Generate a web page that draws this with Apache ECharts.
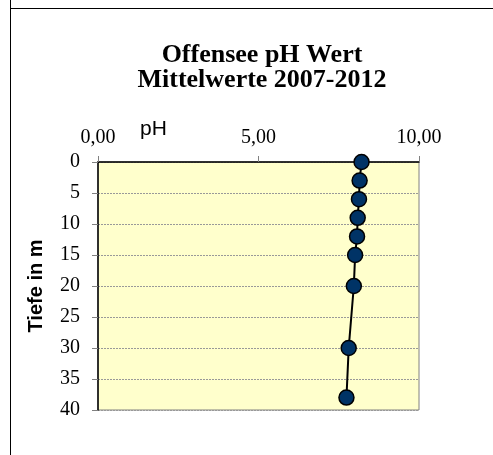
<!DOCTYPE html>
<html><head><meta charset="utf-8">
<script src="https://cdn.jsdelivr.net/npm/echarts@6/dist/echarts.min.js"></script>
<style>html,body{margin:0;padding:0;background:#fff}#c{width:493px;height:455px}</style>
</head><body><div id="c"></div>
<script>
const depths = [0, 3, 6, 9, 12, 15, 20, 30, 38];
const phValues = [8.21, 8.15, 8.13, 8.09, 8.07, 8.01, 7.97, 7.81, 7.74];
const xTicks = [0, 5, 10];
const yTicks = [0, 5, 10, 15, 20, 25, 30, 35, 40];
const titleLines = ['Offensee pH Wert', 'Mittelwerte 2007-2012'];

const chart = echarts.init(document.getElementById('c'), null, {renderer: 'canvas'});
const serif = '"Liberation Serif", "DejaVu Serif", serif';
const sans = '"Liberation Sans", Arial, sans-serif';
chart.setOption({
  animation: false,
  backgroundColor: '#fff',
  title: {
    text: titleLines.join('\n'), left: 257, top: 38, textAlign: 'center',
    textStyle: {fontFamily: serif, fontWeight: 'bold', fontSize: 26, lineHeight: 25, color: '#000'}
  },
  graphic: [
    {type: 'line', shape: {x1: 10.5, y1: 0, x2: 10.5, y2: 455}, style: {stroke: '#000', lineWidth: 1}, z: 10},
    {type: 'line', shape: {x1: 10, y1: 8.5, x2: 493, y2: 8.5}, style: {stroke: '#000', lineWidth: 1}, z: 10},
    {type: 'text', x: 140, y: 129, style: {text: 'pH', font: '21px ' + sans, fill: '#000', verticalAlign: 'middle'}, z: 10}
  ],
  grid: {left: 98, right: 74, top: 162, bottom: 45, show: true, backgroundColor: '#FFFFCC', borderColor: '#808080', borderWidth: 1},
  xAxis: {
    type: 'value', position: 'top', min: 0, max: 10, interval: 5,
    axisLine: {show: true, lineStyle: {color: '#000', width: 1.5}},
    axisTick: {show: true, length: 6, lineStyle: {color: '#808080'}},
    splitLine: {show: false},
    axisLabel: {fontFamily: serif, fontSize: 20, color: '#000', margin: 14,
      formatter: v => xTicks.includes(v) ? v.toFixed(2).replace('.', ',') : ''}
  },
  yAxis: {
    type: 'value', inverse: true, min: 0, max: 40, interval: 5,
    name: 'Tiefe in m', nameLocation: 'middle', nameGap: 52, nameRotate: 90,
    nameTextStyle: {fontFamily: sans, fontWeight: 'bold', fontSize: 20, color: '#000'},
    axisLine: {show: true, lineStyle: {color: '#000', width: 1.5}},
    axisTick: {show: true, length: 6, lineStyle: {color: '#808080'}},
    splitLine: {show: true, lineStyle: {color: '#999', type: [2, 1], width: 1}},
    axisLabel: {fontFamily: serif, fontSize: 20, color: '#000', margin: 18,
      formatter: v => yTicks.includes(v) ? String(v) : ''}
  },
  series: [{
    type: 'line',
    data: depths.map((d, i) => [phValues[i], d]),
    symbol: 'circle', symbolSize: 15,
    lineStyle: {color: '#000', width: 2},
    itemStyle: {color: '#003366', borderColor: '#000', borderWidth: 1.5},
    z: 5
  }]
});
</script></body></html>
